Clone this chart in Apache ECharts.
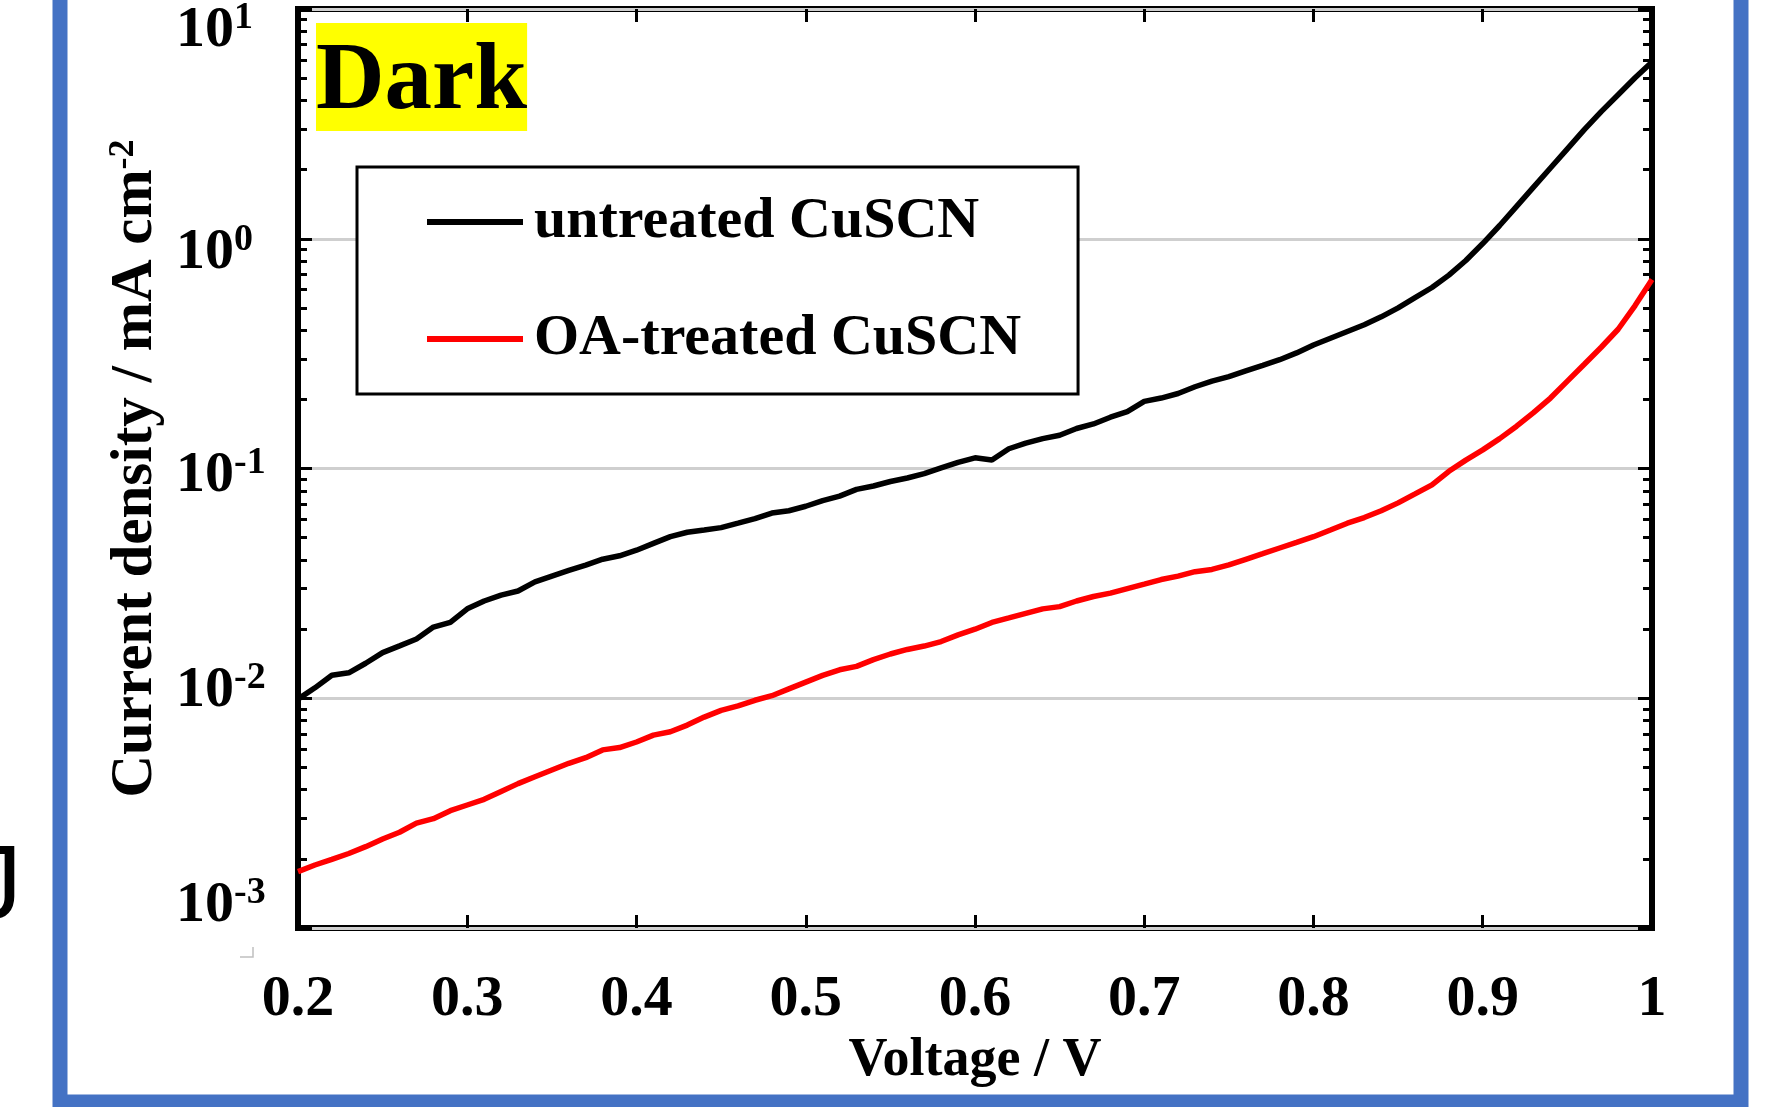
<!DOCTYPE html>
<html>
<head>
<meta charset="utf-8">
<title>Dark J-V</title>
<script src="https://cdn.jsdelivr.net/npm/echarts@6/dist/echarts.min.js"></script>
<style>
html, body { margin: 0; padding: 0; background: #fff; overflow: hidden; }
#myChart { width: 1766px; height: 1107px; }
</style>
</head>
<body>
<div id="myChart"></div>
<script>
// 电压 / V
const voltage = [
  0.20, 0.21, 0.22, 0.23, 0.24, 0.25, 0.26, 0.27, 0.28, 0.29,
  0.30, 0.31, 0.32, 0.33, 0.34, 0.35, 0.36, 0.37, 0.38, 0.39,
  0.40, 0.41, 0.42, 0.43, 0.44, 0.45, 0.46, 0.47, 0.48, 0.49,
  0.50, 0.51, 0.52, 0.53, 0.54, 0.55, 0.56, 0.57, 0.58, 0.59,
  0.60, 0.61, 0.62, 0.63, 0.64, 0.65, 0.66, 0.67, 0.68, 0.69,
  0.70, 0.71, 0.72, 0.73, 0.74, 0.75, 0.76, 0.77, 0.78, 0.79,
  0.80, 0.81, 0.82, 0.83, 0.84, 0.85, 0.86, 0.87, 0.88, 0.89,
  0.90, 0.91, 0.92, 0.93, 0.94, 0.95, 0.96, 0.97, 0.98, 0.99,
  1.00
]
// current density / mA cm-2
const untreated = [
  0.00991, 0.0111, 0.0126, 0.0129, 0.0142, 0.0158, 0.0169, 0.0181, 0.0204, 0.0214,
  0.0245, 0.0265, 0.0281, 0.0293, 0.0321, 0.0340, 0.0360, 0.0380, 0.0403, 0.0417,
  0.0441, 0.0472, 0.0505, 0.0528, 0.0540, 0.0553, 0.0578, 0.0605, 0.0640, 0.0655,
  0.0685, 0.0725, 0.0758, 0.0811, 0.0839, 0.0878, 0.0909, 0.0950, 0.1006, 0.1064,
  0.1113, 0.1088, 0.1219, 0.1289, 0.1349, 0.1396, 0.1493, 0.1563, 0.1672, 0.1770,
  0.1959, 0.2026, 0.2120, 0.2269, 0.2401, 0.2512, 0.2658, 0.2812, 0.2976, 0.3185,
  0.3446, 0.3688, 0.3947, 0.4223, 0.4571, 0.5005, 0.5541, 0.6134, 0.6946, 0.8043,
  0.9531, 1.142, 1.384, 1.677, 2.032, 2.463, 2.985, 3.576, 4.236, 5.018,
  5.880
]
const oaTreated = [
  0.00176, 0.00188, 0.00199, 0.00211, 0.00226, 0.00244, 0.00261, 0.00286, 0.00299, 0.00324,
  0.00343, 0.00363, 0.00393, 0.00425, 0.00455, 0.00487, 0.00521, 0.00551, 0.00596, 0.00610,
  0.00645, 0.00691, 0.00715, 0.00764, 0.00828, 0.00886, 0.00927, 0.00980, 0.01026, 0.01098,
  0.01175, 0.01257, 0.01330, 0.01376, 0.01473, 0.01558, 0.01631, 0.01687, 0.01765, 0.01888,
  0.01998, 0.02138, 0.02237, 0.02341, 0.02449, 0.02505, 0.02650, 0.02773, 0.02869, 0.03002,
  0.03140, 0.03286, 0.03399, 0.03556, 0.03637, 0.03805, 0.04026, 0.04260, 0.04508, 0.04770,
  0.05049, 0.05402, 0.05781, 0.06116, 0.06546, 0.07086, 0.07754, 0.08487, 0.09721, 0.1088,
  0.1205, 0.1349, 0.1528, 0.1750, 0.2026, 0.2401, 0.2844, 0.3371, 0.4037, 0.5119,
  0.6640
]
const seriesNames = ['untreated CuSCN', 'OA-treated CuSCN']
const xTickLabels = ['0.2', '0.3', '0.4', '0.5', '0.6', '0.7', '0.8', '0.9', '1']
const yTickExps = ['-3', '-2', '-1', '0', '1']

const FONT = 'Liberation Serif'

// log minor ticks 2..9 in every decade
const minorTicks = []
for (let e = -3; e < 1; e++) {
  for (let m = 2; m <= 9; m++) {
    minorTicks.push(+(m * Math.pow(10, e)).toPrecision(3))
  }
}

// the y labels in the picture are not exactly centred on their ticks
const labelShift = [-22, -7, 8, 14, 22]
const yRich = {}
labelShift.forEach((d, i) => {
  // base "10": middle aligned, shifted by d
  const pad = d > 0 ? [2 * d, 0, 0, 0] : [0, 0, -2 * d, 0]
  yRich['b' + i] = { fontFamily: FONT, fontWeight: 'bold', fontSize: 58, lineHeight: 60, color: '#000', padding: pad }
  // exponent: bottom aligned, lifted ~13px above the base
  yRich['s' + i] = { fontFamily: FONT, fontWeight: 'bold', fontSize: 38, lineHeight: 34, color: '#000', verticalAlign: 'bottom', padding: [0, 0, 24 - d, 0] }
})

const tickStyle = { color: '#000', width: 3 }

const myChart = echarts.init(document.getElementById('myChart'))
myChart.setOption({
  animation: false,
  backgroundColor: '#fff',
  title: {
    text: 'Dark',
    left: 316,
    top: 23,
    padding: [13, 0, 0, 0],
    backgroundColor: '#ffff00',
    textStyle: { fontFamily: FONT, fontWeight: 'bold', fontSize: 95, color: '#000' }
  },
  legend: {
    data: seriesNames,
    orient: 'vertical',
    left: 357,
    top: 167,
    padding: [26, 57, 26, 70],
    itemGap: 59,
    itemWidth: 96,
    itemHeight: 6,
    icon: 'rect',
    backgroundColor: '#fff',
    borderColor: '#000',
    borderWidth: 3,
    borderRadius: 0,
    textStyle: { fontFamily: FONT, fontWeight: 'bold', fontSize: 58, color: '#000', padding: [0, 0, 0, 6] }
  },
  grid: {
    left: 298,
    right: 114,
    top: 9,
    bottom: 179,
    containLabel: false,
    outerBoundsMode: 'none',
    show: true,
    borderColor: '#000',
    borderWidth: 6
  },
  xAxis: [
    {
      type: 'value',
      position: 'bottom',
      min: 0.2,
      max: 1,
      interval: 0.1,
      name: 'Voltage / V',
      nameLocation: 'middle',
      nameGap: 101,
      nameTextStyle: { fontFamily: FONT, fontWeight: 'bold', fontSize: 54, color: '#000' },
      axisLine: { show: false },
      axisTick: { show: true, inside: true, length: 13, lineStyle: tickStyle },
      axisLabel: {
        margin: 43,
        fontFamily: FONT,
        fontWeight: 'bold',
        fontSize: 58,
        color: '#000',
        formatter: v => xTickLabels[Math.round((v - 0.2) * 10)]
      },
      splitLine: { show: false }
    },
    {
      type: 'value',
      position: 'top',
      min: 0.2,
      max: 1,
      interval: 0.1,
      axisLine: { show: false },
      axisTick: { show: true, inside: true, length: 13, lineStyle: tickStyle },
      axisLabel: { show: false },
      splitLine: { show: false }
    }
  ],
  yAxis: [
    {
      type: 'log',
      logBase: 10,
      position: 'left',
      min: 0.001,
      max: 10,
      name: '{a|Current density / mA cm}{s|-2}',
      nameLocation: 'middle',
      nameGap: 119,
      nameTextStyle: {
        fontFamily: FONT,
        fontWeight: 'bold',
        fontSize: 59,
        color: '#000',
        rich: {
          a: { fontFamily: FONT, fontWeight: 'bold', fontSize: 59, lineHeight: 60, color: '#000' },
          s: { fontFamily: FONT, fontWeight: 'bold', fontSize: 36, lineHeight: 32, color: '#000', verticalAlign: 'top' }
        }
      },
      axisLine: { show: false },
      axisTick: { show: true, inside: true, length: 14, lineStyle: tickStyle },
      axisLabel: {
        margin: 122,
        align: 'left',
        formatter: function (value) {
          const i = Math.round(Math.log10(value)) + 3
          return '{b' + i + '|10}{s' + i + '|' + yTickExps[i] + '}'
        },
        rich: yRich
      },
      splitLine: { show: true, lineStyle: { color: '#cfcfcf', width: 3 } }
    },
    {
      type: 'log',
      logBase: 10,
      position: 'right',
      min: 0.001,
      max: 10,
      axisLine: { show: false },
      axisTick: { show: true, inside: true, length: 14, lineStyle: tickStyle },
      axisLabel: { show: false },
      splitLine: { show: false }
    },
    {
      // minor ticks
      type: 'log',
      logBase: 10,
      position: 'left',
      min: 0.001,
      max: 10,
      axisLine: { show: false },
      axisTick: { show: true, inside: true, length: 9, customValues: minorTicks, lineStyle: tickStyle },
      axisLabel: { show: false },
      splitLine: { show: false }
    },
    {
      type: 'log',
      logBase: 10,
      position: 'right',
      min: 0.001,
      max: 10,
      axisLine: { show: false },
      axisTick: { show: true, inside: true, length: 9, customValues: minorTicks, lineStyle: tickStyle },
      axisLabel: { show: false },
      splitLine: { show: false }
    }
  ],
  series: [
    {
      name: seriesNames[0],
      type: 'line',
      xAxisIndex: 0,
      yAxisIndex: 0,
      showSymbol: false,
      smooth: false,
      color: '#000000',
      lineStyle: { width: 5.5, color: '#000000' },
      data: voltage.map((v, i) => [v, untreated[i]])
    },
    {
      name: seriesNames[1],
      type: 'line',
      xAxisIndex: 0,
      yAxisIndex: 0,
      showSymbol: false,
      smooth: false,
      color: '#ff0000',
      lineStyle: { width: 5.5, color: '#ff0000' },
      data: voltage.map((v, i) => [v, oaTreated[i]])
    }
  ],
  graphic: [
    {
      // blue slide frame
      type: 'rect',
      shape: { x: 60, y: -30, width: 1681, height: 1132 },
      style: { fill: 'none', stroke: '#4472c4', lineWidth: 15 },
      silent: true
    },
    {
      type: 'text',
      x: -30,
      y: 889,
      style: { text: 'J', font: 'normal 104px "Liberation Sans"', fill: '#000', verticalAlign: 'middle' },
      silent: true
    },
    {
      type: 'polyline',
      shape: { points: [[240, 957], [253, 957], [253, 947]] },
      style: { stroke: '#c0c0c0', lineWidth: 1.5, fill: 'none' },
      silent: true
    }
  ]
})
</script>
</body>
</html>
